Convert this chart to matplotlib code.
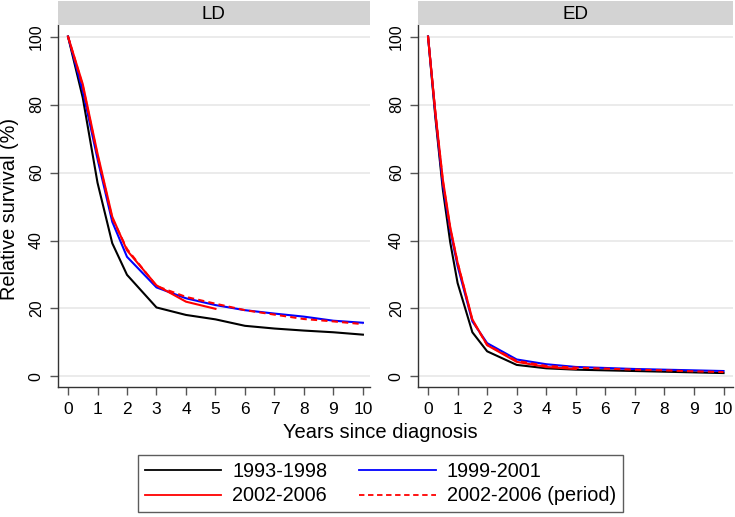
import matplotlib
matplotlib.use("Agg")
import matplotlib.pyplot as plt
from matplotlib.lines import Line2D

plt.rcParams['font.family'] = ['Liberation Sans', 'DejaVu Sans']

# ---- data ----
panels = ["LD", "ED"]
series_labels = ["1993-1998", "1999-2001", "2002-2006", "2002-2006 (period)"]

ld_years = [0, 0.5, 1, 1.5, 2, 3, 4, 5, 6, 7, 8, 9, 10]
ld_1993 = [100, 82, 57, 39.2, 29.9, 20.3, 18.1, 16.8, 14.9, 14.1, 13.5, 13.0, 12.3]
ld_1999 = [100, 84, 64, 45.5, 35.2, 26.2, 23.0, 21.0, 19.5, 18.5, 17.6, 16.4, 15.8]
ld_2002_years = [0, 0.5, 1, 1.5, 2, 3, 4, 5]
ld_2002 = [100, 86, 65.6, 47.0, 37.1, 26.8, 22.0, 19.9]
ld_period = [100, 85.5, 65, 46.5, 37.5, 26.6, 23.4, 21.4, 19.5, 18.2, 16.9, 16.2, 15.4]

ed_years = [0, 0.25, 0.5, 0.75, 1, 1.5, 2, 3, 4, 5, 6, 7, 8, 9, 10]
ed_1993 = [100, 76, 55, 39.5, 27.5, 13.0, 7.4, 3.4, 2.4, 2.0, 1.8, 1.6, 1.4, 1.2, 1.0]
ed_1999 = [100, 77, 56.5, 43, 32.5, 16.2, 9.8, 5.0, 3.6, 2.8, 2.5, 2.2, 2.0, 1.8, 1.6]
ed_2002_years = [0, 0.25, 0.5, 0.75, 1, 1.5, 2, 3, 4, 5]
ed_2002 = [100, 77.5, 58, 44, 33.5, 16.8, 9.2, 4.3, 2.8, 2.2]
ed_period = [100, 77.5, 57.5, 43.5, 33.5, 16.5, 9.3, 4.6, 3.1, 2.6, 2.3, 2.0, 1.8, 1.5, 1.3]

xticks = list(range(0, 11))
yticks = [0, 20, 40, 60, 80, 100]

panel_data = {
    "LD": [(ld_years, ld_1993), (ld_years, ld_1999), (ld_2002_years, ld_2002), (ld_years, ld_period)],
    "ED": [(ed_years, ed_1993), (ed_years, ed_1999), (ed_2002_years, ed_2002), (ed_years, ed_period)],
}

styles = [
    dict(color="black", linestyle="-"),
    dict(color="#0000ff", linestyle="-"),
    dict(color="#ff0000", linestyle="-"),
    dict(color="#ff0000", linestyle=(0, (3, 2))),
]

W, H = 735, 517
fig = plt.figure(figsize=(W / 100, H / 100), dpi=100)

axes_px = {"LD": (57.7, 370.0, -0.35, 10.24), "ED": (417.7, 733.0, -0.35, 10.32)}
top_px, bot_px = 25.0, 387.0
strip_top = 1.0

for name in panels:
    x0, x1, xmin, xmax = axes_px[name]
    ax = fig.add_axes([x0 / W, 1 - bot_px / H, (x1 - x0) / W, (bot_px - top_px) / H])
    for (xs, ys), st in zip(panel_data[name], styles):
        ax.plot(xs, ys, lw=1.5, **st)
    ax.set_xlim(xmin, xmax)
    ax.set_ylim(-3.1, 103.4)
    ax.set_xticks(xticks)
    ax.set_yticks(yticks)
    ax.grid(axis="y", color="#e6e6e6", lw=1.1)
    ax.set_axisbelow(True)
    for s in ["top", "right"]:
        ax.spines[s].set_visible(False)
    for s in ["left", "bottom"]:
        ax.spines[s].set_color("#333333")
        ax.spines[s].set_linewidth(1.0)
    ax.tick_params(axis="x", length=6, width=1, color="#555555", labelsize=12.5, pad=5)
    ax.tick_params(axis="y", length=6, width=1, color="#555555", labelsize=11.5, pad=4)
    for lab in ax.get_yticklabels():
        lab.set_rotation(90)
        lab.set_va("center")
    # strip
    sax = fig.add_axes([x0 / W, 1 - top_px / H, (x1 - x0) / W, (top_px - strip_top) / H])
    sax.set_facecolor("#d3d3d3")
    sax.set_xticks([])
    sax.set_yticks([])
    for s in sax.spines.values():
        s.set_visible(False)
    sax.text(0.5, 0.45, name, ha="center", va="center", fontsize=13.5, transform=sax.transAxes)

fig.text(380 / W, 1 - 433 / H, "Years since diagnosis", ha="center", va="center", fontsize=14.5)
fig.text(10 / W, 1 - 209 / H, "Relative survival (%)", ha="center", va="center", rotation=90, fontsize=14.3)

handles = [Line2D([], [], lw=1.3, **st) for st in styles]
order = [0, 2, 1, 3]
leg = fig.legend([handles[i] for i in order], [series_labels[i] for i in order],
                 ncol=2, loc="center", bbox_to_anchor=(380.5 / W, 1 - 483.5 / H),
                 frameon=True, fancybox=False, edgecolor="#333333", fontsize=14.3,
                 handlelength=3.85, handletextpad=0.55, columnspacing=1.6,
                 labelspacing=0.3, borderpad=0.35, borderaxespad=0)
leg.get_frame().set_linewidth(1.0)

fig.savefig("out.png", dpi=100)
